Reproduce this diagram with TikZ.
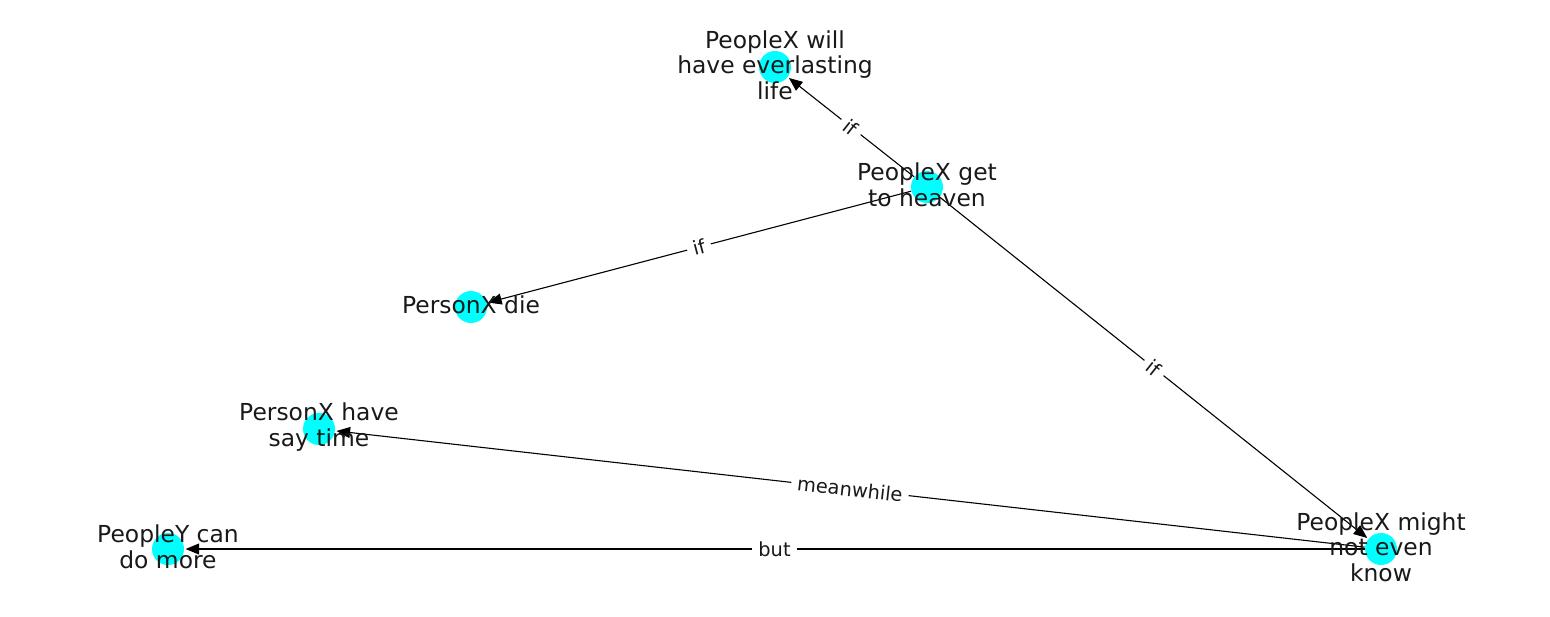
\documentclass[tikz,border=0pt]{standalone}
\usepackage{fontspec}
\setmainfont{DejaVu Sans}
\usepackage{tikz}
\usetikzlibrary{arrows.meta}
\definecolor{dotcyan}{RGB}{0,255,255}
\definecolor{inkgray}{RGB}{25,25,25}

\begin{document}
\begin{tikzpicture}[x=0.5pt, y=-0.5pt,
    dot/.style={circle, fill=dotcyan, minimum size=16pt, inner sep=0pt},
    nodetxt/.style={align=center, inner sep=0pt, yshift=1pt, text=inkgray, font=\fontsize{11.7}{12.8}\selectfont},
    rel/.style={-{Triangle[length=6.8pt, width=5.5pt]}, line width=0.55pt, shorten >=0.6pt},
    reltxt/.style={sloped, fill=white, inner sep=3pt, text=inkgray, font=\fontsize{9.7}{11}\selectfont}]
        \useasboundingbox (0,0) rectangle (1550,616);
        % nodes
        \node[dot] (life) at (775,67) {};
        \node[dot] (heaven) at (927,187) {};
        \node[dot] (die) at (471,307) {};
        \node[dot] (saytime) at (319,429) {};
        \node[dot] (domore) at (168,549) {};
        \node[dot] (know) at (1381,549) {};
        % edges
        \draw[rel] (heaven) -- node[reltxt] (if1) {if} (life);
        \draw[rel] (heaven) -- node[reltxt] (if2) {if} (die);
        \draw[rel] (heaven) -- node[reltxt] (if3) {if} (know);
        \draw[rel] (know) -- node[reltxt] (mw) {meanwhile} (saytime);
        \draw[rel] (know) -- node[reltxt] (but) {but} (domore);
        % labels
        \node[nodetxt] (lifetxt) at (life) {PeopleX will\\have everlasting\\life};
        \node[nodetxt] (heaventxt) at (heaven) {PeopleX get\\to heaven};
        \node[nodetxt] (dietxt) at (die) {PersonX die};
        \node[nodetxt] (saytimetxt) at (saytime) {PersonX have\\say time};
        \node[nodetxt] (domoretxt) at (domore) {PeopleY can\\do more};
        \node[nodetxt] (knowtxt) at (know) {PeopleX might\\not even\\know};
      \end{tikzpicture}
\end{document}
